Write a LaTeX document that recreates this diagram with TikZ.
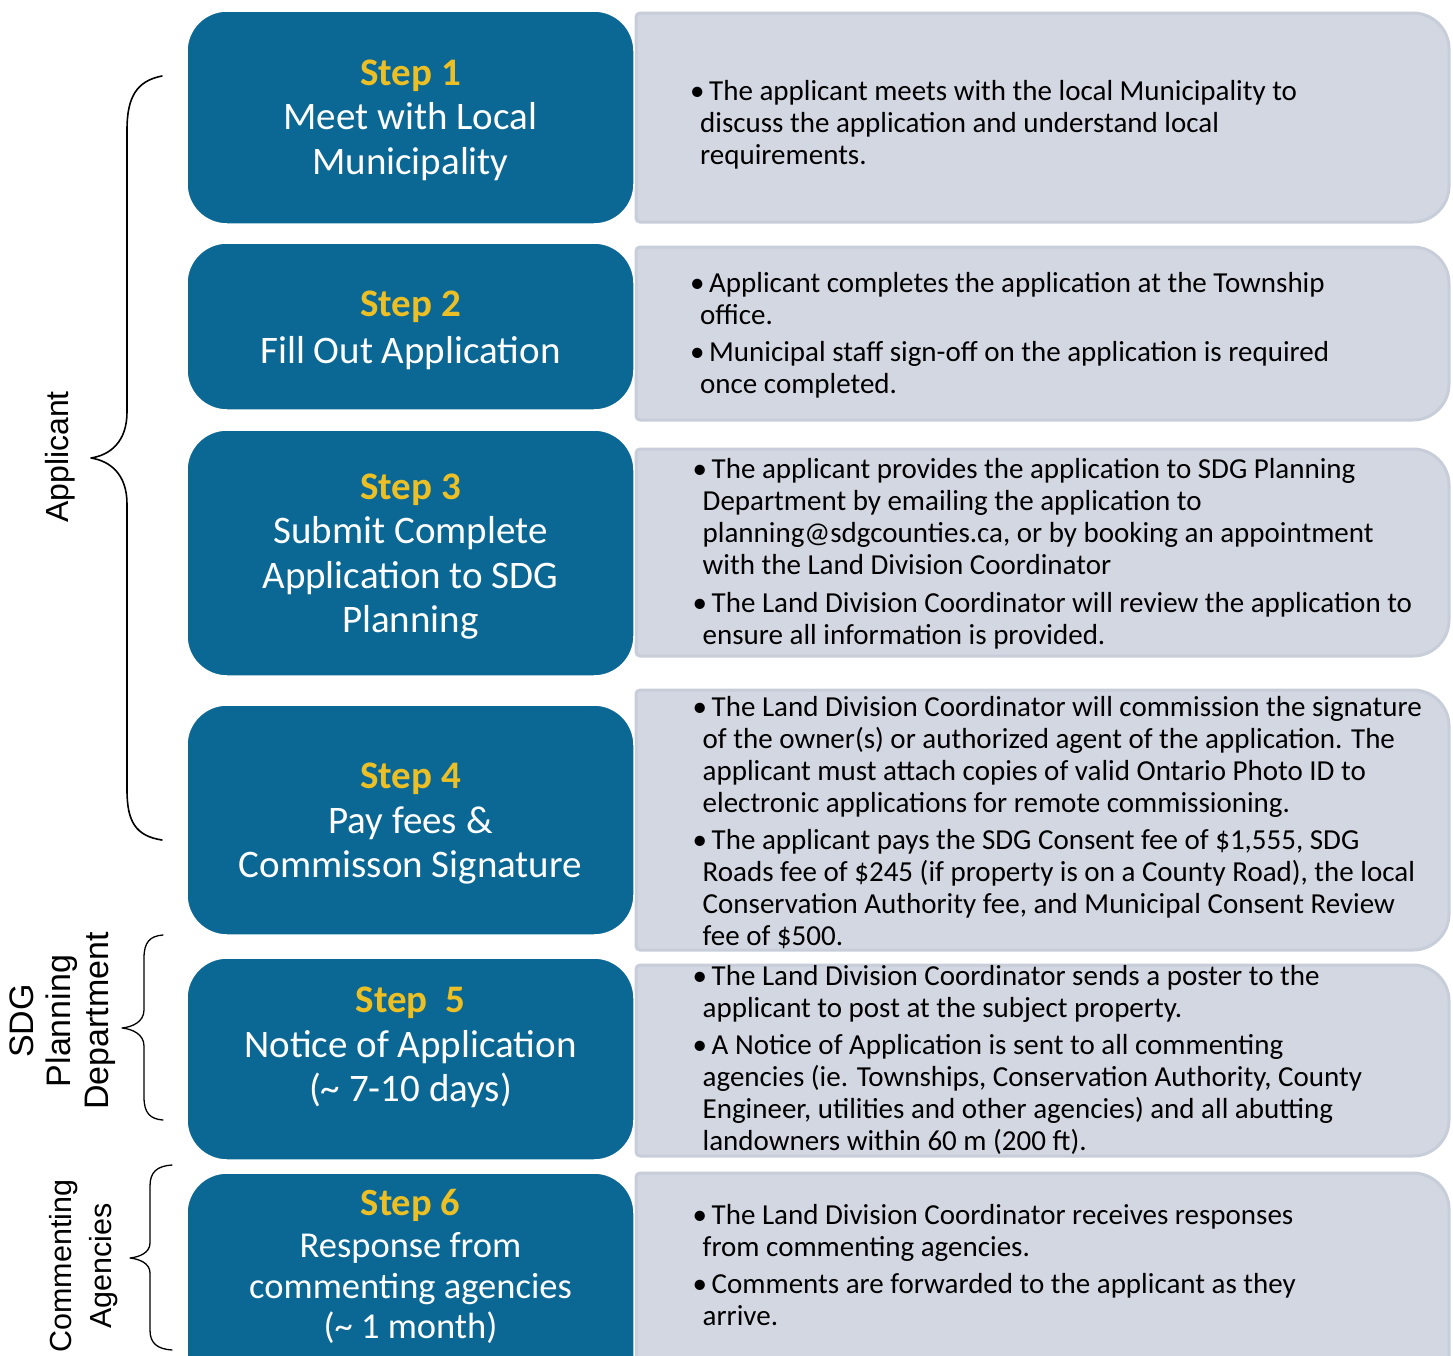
\documentclass[tikz,border=0pt]{standalone}
\usepackage{fontspec}
\setmainfont{Carlito}
\newfontfamily\arialf{Liberation Sans}
\definecolor{stepblue}{RGB}{11,104,148}
\definecolor{stepyellow}{RGB}{236,192,36}
\definecolor{panelfill}{RGB}{211,215,226}
\definecolor{panelline}{RGB}{200,205,218}
\newcommand\steplab[1]{{\bfseries\color{stepyellow}#1}}
\newcommand\bl{\makebox[19pt][l]{\textbullet}}
\newcommand\cl{\hspace*{10pt}}
\newcommand\infopanel[2]{%
  \path[infobox] (1000,#1) [rounded corners=36pt] -- (1449,#1) -- (1449,#2) -- (1000,#2)
    [rounded corners=4pt] -- (636,#2) -- (636,#1) -- cycle;}
\begin{document}
\begin{tikzpicture}[x=1pt,y=-1pt,
  stepbox/.style={fill=stepblue, draw=white, line width=1.5pt, rounded corners=40pt,
    minimum width=447pt, inner sep=0pt, outer sep=0pt},
  infobox/.style={fill=panelfill, draw=panelline, line width=3pt},
  steptext/.style={inner sep=0pt, text=white, font=\fontsize{39}{44.5}\selectfont},
  paneltext/.style={inner sep=0pt, text=black, font=\fontsize{29}{32}\selectfont, anchor=base west},
  bracepath/.style={draw=black, line width=1.6pt, line cap=round, line join=round},
  sidelabel/.style={inner sep=0pt, rotate=90, anchor=base}
]
\useasboundingbox (0,0) rectangle (1453,1355);
\fill[white] (0,0) rectangle (1453,1355);
\begin{scope}
\clip (0,0) rectangle (1453,1355);

% info panels
\infopanel{13}{222}
\infopanel{247}{420}
\infopanel{449}{656}
\infopanel{690}{950}
\infopanel{965}{1156}
\infopanel{1173}{1420}

% step boxes
\node[stepbox, minimum height=213pt] (s1) at (410.5,117.5) {};
\node[stepbox, minimum height=167pt] (s2) at (410.5,326.5) {};
\node[stepbox, minimum height=246pt] (s3) at (410.5,553) {};
\node[stepbox, minimum height=230pt] (s4) at (410.5,820) {};
\node[stepbox, minimum height=202pt] (s5) at (410.5,1059) {};
\node[stepbox, minimum height=247pt] (s6) at (410.5,1296.5) {};

% step texts
\node[steptext, anchor=base] (x1) at (410.5,85) {\begin{tabular}[t]{@{}c@{}}\steplab{Step 1}\\ Meet with Local\\ Municipality\end{tabular}};
\node[steptext, anchor=base] (x2) at (410.5,316.5) {\begin{tabular}[t]{@{}c@{}}\steplab{Step 2}\\[2pt] Fill Out Application\end{tabular}};
\node[steptext, anchor=base] (x3) at (410.5,499) {\begin{tabular}[t]{@{}c@{}}\steplab{Step 3}\\ Submit Complete\\ Application to SDG\\ Planning\end{tabular}};
\node[steptext, anchor=base] (x4) at (410.5,788.5) {\begin{tabular}[t]{@{}c@{}}\steplab{Step 4}\\ Pay fees \&\\ Commisson Signature\end{tabular}};
\node[steptext, anchor=base] (x5) at (410.5,1012.5) {\begin{tabular}[t]{@{}c@{}}\steplab{Step\ \ 5}\\ Notice of Application\\ (\textasciitilde{} 7-10 days)\end{tabular}};
\node[steptext, anchor=base, font=\fontsize{36.5}{40.5}\selectfont] (x6) at (410.5,1215) {\begin{tabular}[t]{@{}c@{}}{\fontsize{38.5}{40}\selectfont\steplab{Step 6}}\\[2pt] Response from\\ commenting agencies\\ (\textasciitilde{} 1 month)\end{tabular}};

% panel texts
\node[paneltext] (t1) at (690,100) {\begin{tabular}[t]{@{}l@{}}
\bl The applicant meets with the local Municipality to\\
\cl discuss the application and understand local\\
\cl requirements.\end{tabular}};
\node[paneltext] (t2) at (690,292.5) {\begin{tabular}[t]{@{}l@{}}
\bl Applicant completes the application at the Township\\
\cl office.\\[5pt]
\bl Municipal staff sign-off on the application is required\\
\cl once completed.\end{tabular}};
\node[paneltext] (t3) at (692.5,478.5) {\begin{tabular}[t]{@{}l@{}}
\bl The applicant provides the application to SDG Planning\\
\cl Department by emailing the application to\\
\cl planning@sdgcounties.ca, or by booking an appointment\\
\cl with the Land Division Coordinator\\[6pt]
\bl The Land Division Coordinator will review the application to\\
\cl ensure all information is provided.\end{tabular}};
\node[paneltext] (t4) at (692.5,716.5) {\begin{tabular}[t]{@{}l@{}}
\bl The Land Division Coordinator will commission the signature\\
\cl of the owner(s) or authorized agent of the application. The\\
\cl applicant must attach copies of valid Ontario Photo ID to\\
\cl electronic applications for remote commissioning.\\[5pt]
\bl The applicant pays the SDG Consent fee of \$1,555, SDG\\
\cl Roads fee of \$245 (if property is on a County Road), the local\\
\cl Conservation Authority fee, and Municipal Consent Review\\
\cl fee of \$500.\end{tabular}};
\node[paneltext] (t5) at (692.5,985.5) {\begin{tabular}[t]{@{}l@{}}
\bl The Land Division Coordinator sends a poster to the\\
\cl applicant to post at the subject property.\\[5pt]
\bl A Notice of Application is sent to all commenting\\
\cl agencies (ie. Townships, Conservation Authority, County\\
\cl Engineer, utilities and other agencies) and all abutting\\
\cl landowners within 60 m (200 ft).\end{tabular}};
\node[paneltext] (t6) at (692.5,1224) {\begin{tabular}[t]{@{}l@{}}
\bl The Land Division Coordinator receives responses\\
\cl from commenting agencies.\\[5pt]
\bl Comments are forwarded to the applicant as they\\
\cl arrive.\end{tabular}};

% braces
\path[bracepath] (162,76) .. controls (136,81) and (127,98) .. (127,130) -- (127,412)
  .. controls (127,442) and (110,455) .. (91,458)
  .. controls (110,461) and (127,474) .. (127,504) -- (127,790)
  .. controls (127,822) and (136,836) .. (162,840);
\path[bracepath, line width=1.3pt] (163,935) .. controls (150,936) and (144,942) .. (144,958) -- (144,1010)
  .. controls (144,1022) and (132,1027) .. (122,1028)
  .. controls (132,1029) and (144,1034) .. (144,1046) -- (144,1097)
  .. controls (144,1113) and (150,1119) .. (163,1120);
\path[bracepath, line width=1.3pt] (172,1165) .. controls (157,1166) and (150,1172) .. (150,1186) -- (150,1243)
  .. controls (150,1253) and (139,1257) .. (130,1258)
  .. controls (139,1259) and (150,1263) .. (150,1273) -- (150,1330)
  .. controls (150,1343) and (157,1349) .. (172,1350);

% side labels
\node[sidelabel, font=\arialf\fontsize{32}{36}\selectfont] (la) at (68,457) {Applicant};
\node[sidelabel, font=\arialf\fontsize{34}{37.5}\selectfont] (lb) at (33,1021) {\begin{tabular}[t]{@{}c@{}}SDG\\ Planning\\ Department\end{tabular}};
\node[sidelabel, font=\arialf\fontsize{30.5}{40}\selectfont] (lc) at (71,1266) {\begin{tabular}[t]{@{}c@{}}Commenting\\ Agencies\end{tabular}};
\end{scope}
\end{tikzpicture}
\end{document}
